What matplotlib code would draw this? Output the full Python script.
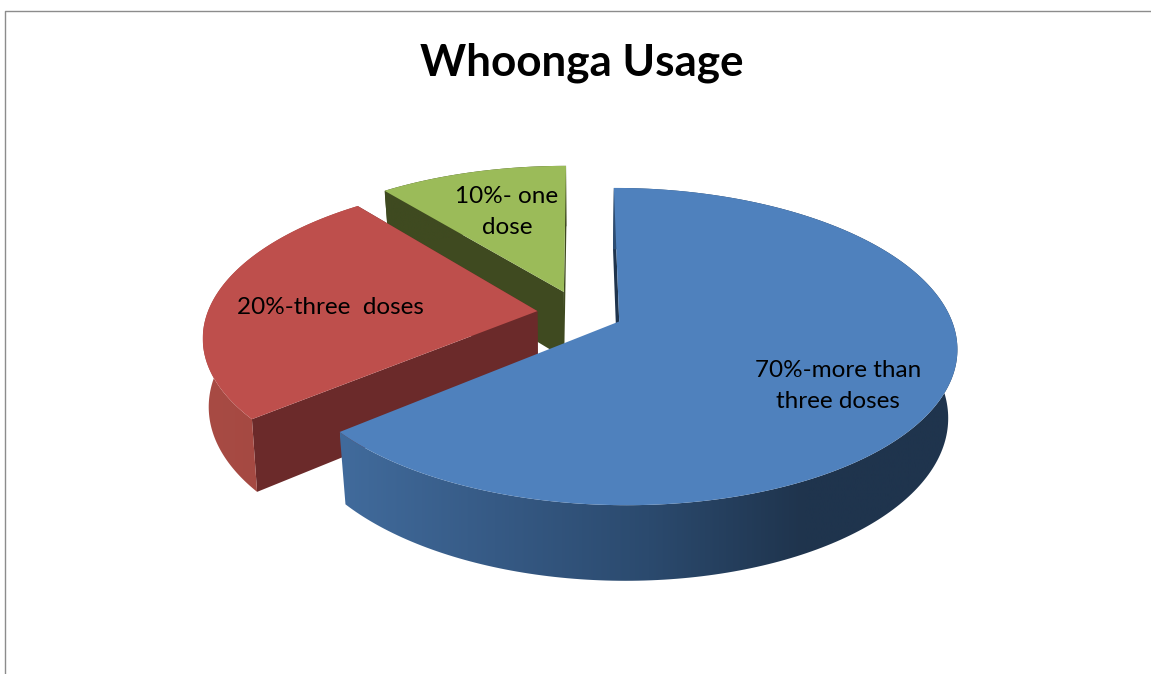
import numpy as np
import matplotlib
matplotlib.use("Agg")
import matplotlib.pyplot as plt
from matplotlib.patches import Polygon
from matplotlib.colors import LinearSegmentedColormap

# shares as drawn (the printed labels say 70/20/10, the slices are not quite that)
shares = [63.9, 25.3, 10.8]
labels = ["70%-more than\nthree doses", "20%-three  doses", "10%- one\ndose"]
top_colors = ["#4F81BD", "#BE4F4C", "#9BBB59"]
cut_colors = ["#1F344D", "#6B2A2A", "#3F4A20"]
rim_stops = [["#416B9C", "#365A85", "#2B4A6E", "#1F344D", "#1F344D"],
             ["#A84B44", "#A0463F"],
             ["#3F4A20", "#3F4A20"]]

# fake 3d view, pixel space
cx, cy = 580, 313
a, b = 330, 152
persp = 0.157
explode = [0.13, 0.13, 0.15]
shrink = [0.025, 0.016, 0.025]
depth = 67
cut_edges = [[0], [0, -1], [0, -1]]  # blue's far cut face is hidden


def project(u, v, low=None):
    w = 1 + persp * v
    if low is not None:
        return cx + a * u / (w * (1 + low)), cy - b * v / (w * (1 + low)) + depth / w
    return cx + a * u / w, cy - b * v / w


fig = plt.figure(figsize=(11.51, 6.74), dpi=100)
ax = fig.add_axes([0, 0, 1, 1])
ax.axis("off")

# frame
ax.plot([5.5, 5.5, 1151], [674, 10.5, 10.5], color="#8C8C8C", lw=1)

angles = np.cumsum([0] + shares) / sum(shares) * 2 * np.pi

# back slices first
for i in [2, 1, 0]:
    z = i * -3 + 7
    t0, t1 = angles[i], angles[i + 1]
    mid = (t0 + t1) / 2
    ou, ov = explode[i] * np.sin(mid), explode[i] * np.cos(mid)
    t = np.linspace(t0, t1, 240)
    u = ou + np.sin(t)
    v = ov + np.cos(t)
    xt, yt = project(u, v)
    xb, yb = project(u, v, low=shrink[i])

    # cut faces
    ax_top, ay_top = project(ou, ov)
    ax_low, ay_low = project(ou, ov, low=shrink[i])
    for k in cut_edges[i]:
        ax.fill([ax_top, xt[k], xb[k], ax_low], [ay_top, yt[k], yb[k], ay_low],
                color=cut_colors[i], lw=0, zorder=z)

    # outer rim, gradient clipped to the rim outline
    cmap = LinearSegmentedColormap.from_list("rim", rim_stops[i])
    outline = Polygon(np.c_[np.r_[xt, xb[::-1]], np.r_[yt, yb[::-1]]], transform=ax.transData,
                      fc="none", ec="none")
    ax.add_patch(outline)
    grad = ax.imshow(np.linspace(0, 1, 256)[None, :], cmap=cmap, aspect="auto", zorder=z + 1,
                     extent=[min(xb.min(), xt.min()), max(xb.max(), xt.max()),
                             max(yb.max(), yt.max()), min(yb.min(), yt.min())])
    grad.set_clip_path(outline)

    # top face
    ax.fill(np.r_[ax_top, xt], np.r_[ay_top, yt], color=top_colors[i], lw=0, zorder=z + 2)

ax.set_xlim(0, 1151)
ax.set_ylim(674, 0)

ax.text(582, 63, "Whoonga Usage", fontsize=31.7, fontweight="bold", family="Lato",
        ha="center", va="center", color="black")
ax.text(838, 386, labels[0], fontsize=17.5, family="Lato", ha="center", va="center",
        linespacing=1.55, zorder=20)
ax.text(330, 307, labels[1], fontsize=17.5, family="Lato", ha="center", va="center", zorder=20)
ax.text(507, 212, labels[2], fontsize=17.5, family="Lato", ha="center", va="center",
        linespacing=1.55, zorder=20)

fig.savefig("out.png", dpi=100)
